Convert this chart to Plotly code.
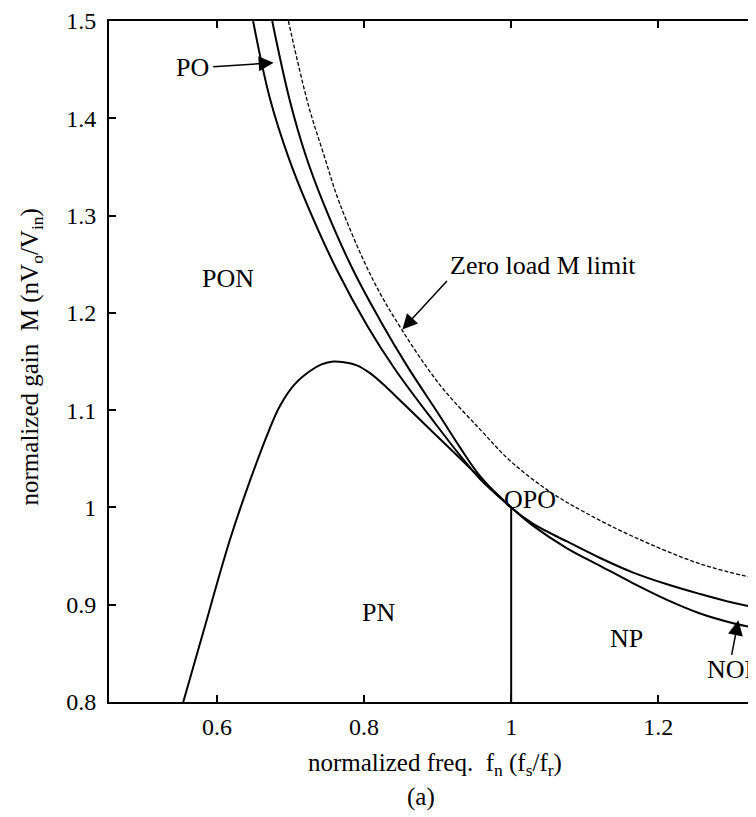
import plotly.graph_objects as go

# boundary curves (normalized freq fn, gain M)
po_fn = [0.649, 0.672, 0.697, 0.722, 0.763, 0.804, 0.842, 0.897, 0.931, 0.958, 1.000,
         1.030, 1.076, 1.121, 1.166, 1.212, 1.257, 1.302, 1.333]
po_m = [1.500, 1.420, 1.360, 1.312, 1.244, 1.187, 1.142, 1.086, 1.053, 1.029, 1.000,
        0.981, 0.958, 0.940, 0.922, 0.905, 0.891, 0.881, 0.876]

upper_fn = [0.675, 0.699, 0.720, 0.745, 0.785, 0.822, 0.858, 0.903, 0.931, 0.958, 1.000,
            1.030, 1.076, 1.121, 1.166, 1.212, 1.257, 1.302, 1.333]
upper_m = [1.500, 1.418, 1.363, 1.312, 1.244, 1.192, 1.146, 1.094, 1.061, 1.032, 1.000,
           0.983, 0.965, 0.948, 0.933, 0.921, 0.911, 0.902, 0.897]

peak_fn = [0.554, 0.579, 0.618, 0.645, 0.670, 0.686, 0.706, 0.726, 0.742, 0.758, 0.774,
           0.790, 0.808, 0.831, 0.853, 0.894, 0.931, 0.958, 1.000]
peak_m = [0.800, 0.866, 0.968, 1.028, 1.078, 1.105, 1.127, 1.140, 1.147, 1.150, 1.149,
          1.146, 1.138, 1.123, 1.107, 1.077, 1.050, 1.030, 1.000]

zero_fn = [0.697, 0.724, 0.745, 0.767, 0.812, 0.851, 0.903, 0.958, 1.000, 1.053, 1.100,
           1.166, 1.257, 1.333]
zero_m = [1.500, 1.414, 1.363, 1.312, 1.234, 1.183, 1.126, 1.080, 1.047, 1.016, 0.995,
          0.970, 0.942, 0.927]

opo_fn = [1.0, 1.0]
opo_m = [0.8, 1.0]

x_ticks = [0.6, 0.8, 1.0, 1.2]
x_labels = ['0.6', '0.8', '1', '1.2']
y_ticks = [0.8, 0.9, 1.0, 1.1, 1.2, 1.3, 1.4, 1.5]
y_labels = ['0.8', '0.9', '1', '1.1', '1.2', '1.3', '1.4', '1.5']

FONT = 'Liberation Serif, Times New Roman, serif'

fig = go.Figure()

solid = dict(color='black', width=2, shape='spline', smoothing=1.1)
for xs, ys in [(po_fn, po_m), (upper_fn, upper_m), (peak_fn, peak_m)]:
    fig.add_trace(go.Scatter(x=xs, y=ys, mode='lines', line=solid, hoverinfo='skip'))

fig.add_trace(go.Scatter(x=zero_fn, y=zero_m, mode='lines',
                         line=dict(color='black', width=1.3, dash='4px,2px',
                                   shape='spline', smoothing=1.0),
                         hoverinfo='skip'))
fig.add_trace(go.Scatter(x=opo_fn, y=opo_m, mode='lines',
                         line=dict(color='black', width=2), hoverinfo='skip'))

# region labels
labels = [('PON', 0.615, 1.235), ('PN', 0.819, 0.892), ('NP', 1.157, 0.865),
          ('OPO', 1.026, 1.008), ('PO', 0.567, 1.452), ('Zero load M limit', 1.043, 1.249)]
for txt, x, y in labels:
    fig.add_annotation(x=x, y=y, text=txt, showarrow=False,
                       xanchor='center', yanchor='middle',
                       font=dict(family=FONT, size=26, color='black'))

fig.add_annotation(x=1.264, y=0.833, text='NOP', showarrow=False,
                   xanchor='left', yanchor='middle',
                   font=dict(family=FONT, size=26, color='black'))

# arrows
arrow = dict(showarrow=True, arrowhead=2, arrowsize=2, arrowwidth=1.5,
             arrowcolor='black', text='', standoff=0)
fig.add_annotation(x=0.677, y=1.457, ax=-62, ay=4, **arrow)
fig.add_annotation(x=0.852, y=1.183, ax=46, ay=-50, **arrow)
fig.add_annotation(x=1.309, y=0.884, ax=-7, ay=36, **arrow)

# axis titles
title_font = dict(family=FONT, size=25, color='black')
fig.add_annotation(xref='paper', yref='paper', x=0.504, y=-0.092,
                   xanchor='center', yanchor='middle',
                   text='normalized freq.&nbsp; f<sub>n</sub> (f<sub>s</sub>/f<sub>r</sub>)',
                   showarrow=False, font=title_font)
fig.add_annotation(xref='paper', yref='paper', x=0.482, y=-0.140, text='(a)',
                   xanchor='center', yanchor='middle',
                   showarrow=False, font=title_font)
fig.add_annotation(xref='paper', yref='paper', x=-0.1205, y=0.506, textangle=-90,
                   xanchor='center', yanchor='middle',
                   text='normalized gain&nbsp; M (nV<sub>o</sub>/V<sub>in</sub>)',
                   showarrow=False, font=title_font)

fig.update_xaxes(range=[0.453, 1.333], tickvals=x_ticks, ticktext=x_labels,
                 showline=True, linecolor='black', linewidth=2, mirror='ticks',
                 ticks='inside', ticklen=7, tickwidth=2, tickcolor='black',
                 showgrid=False, zeroline=False, ticklabelstandoff=2,
                 tickfont=dict(family=FONT, size=24, color='black'))
fig.update_yaxes(range=[0.8, 1.5], tickvals=y_ticks, ticktext=y_labels,
                 showline=True, linecolor='black', linewidth=2, mirror=False,
                 ticks='inside', ticklen=7, tickwidth=2, tickcolor='black',
                 showgrid=False, zeroline=False, ticklabelstandoff=6,
                 ticklabeloverflow='allow',
                 tickfont=dict(family=FONT, size=24, color='black'))

# page body keeps an 8px margin, so the figure is sized to fit inside the window
fig.update_layout(width=748, height=809, showlegend=False,
                  plot_bgcolor='white', paper_bgcolor='white',
                  margin=dict(l=101, r=0, t=8, b=115))

fig.write_html('out.html')
